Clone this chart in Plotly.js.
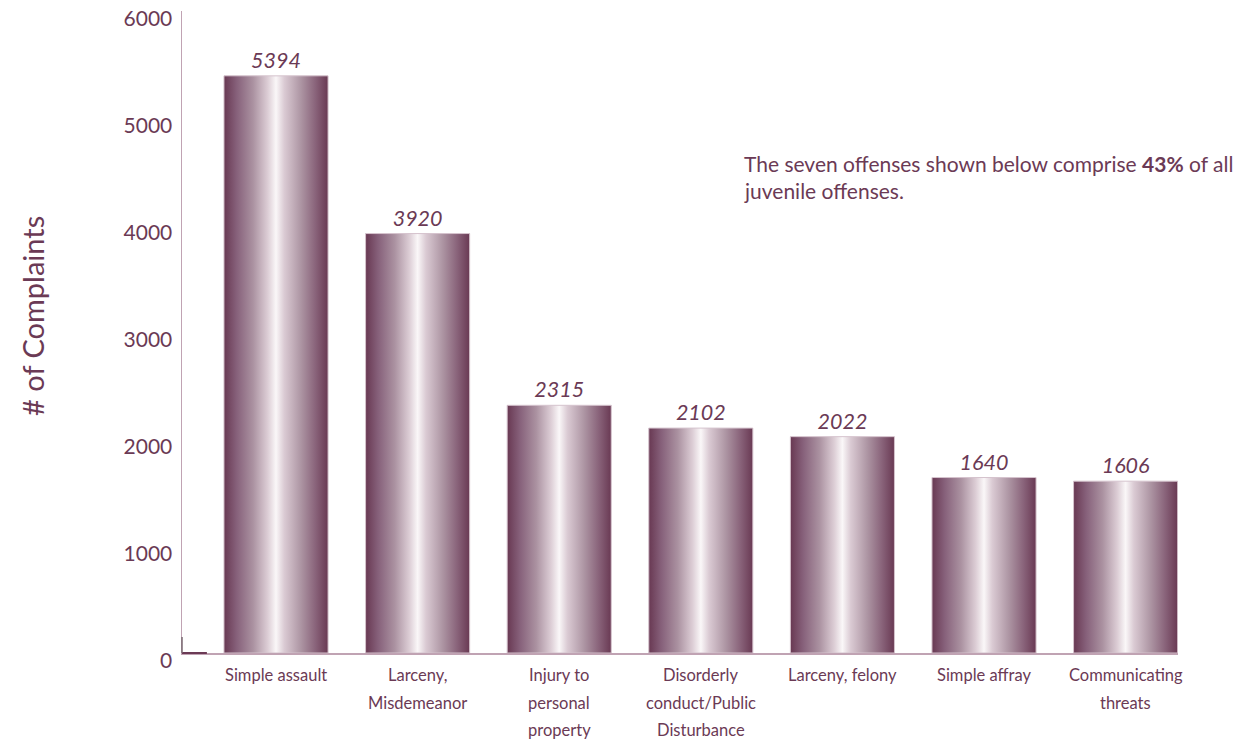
<!DOCTYPE html>
<html>
<head>
<meta charset="utf-8">
<script src="https://cdn.plot.ly/plotly-3.0.1.min.js"></script>
<style>
  html, body { margin: 0; padding: 0; background: #ffffff; }
  #chart { width: 1246px; height: 739px; }
</style>
</head>
<body>
<div id="chart"></div>
<script>
// ---- data ----
const categories = [
  "Simple assault",
  "Larceny, Misdemeanor",
  "Injury to personal property",
  "Disorderly conduct/Public Disturbance",
  "Larceny, felony",
  "Simple affray",
  "Communicating threats"
];
const complaints = [5394, 3920, 2315, 2102, 2022, 1640, 1606];
const categoryLabelLines = [
  ["Simple assault"],
  ["Larceny,", "Misdemeanor"],
  ["Injury to", "personal", "property"],
  ["Disorderly", "conduct/Public", "Disturbance"],
  ["Larceny, felony"],
  ["Simple affray"],
  ["Communicating", "threats"]
];
const yTickValues = [0, 1000, 2000, 3000, 4000, 5000, 6000];
const yTitle = "# of Complaints";
const noteLines = ["The seven offenses shown below comprise <b>43%</b> of all", "juvenile offenses."];

// ---- style ----
const FONT = "Lato, 'Open Sans', sans-serif";
const TEXT = "#6b3a55";
const AXIS = "#c0a3b3";

const trace = {
  type: "bar",
  x: categories,
  y: complaints,
  text: complaints.map(String),
  textposition: "outside",
  cliponaxis: false,
  textfont: { family: FONT, size: 21.5, style: "italic", color: TEXT },
  marker: { color: "#a58797", line: { color: "#d5c3cd", width: 1 } },
  hoverinfo: "x+y"
};

const annotations = [];
categoryLabelLines.forEach((lines, i) => {
  lines.forEach((line, j) => {
    annotations.push({
      x: categories[i], xref: "x",
      y: 0, yref: "paper",
      yanchor: "middle", xanchor: "center",
      yshift: -22 - j * 27.5,
      text: line, showarrow: false,
      font: { family: FONT, size: 16.5, color: TEXT }
    });
  });
});
noteLines.forEach((line, j) => {
  annotations.push({
    x: 0.562, xref: "paper",
    y: 0.763, yref: "paper",
    xanchor: "left", yanchor: "middle",
    yshift: -j * 27,
    text: line, showarrow: false, align: "left",
    font: { family: FONT, size: 21, color: TEXT }
  });
});
annotations.push({
  x: -0.1496, xref: "paper",
  y: 0.525, yref: "paper",
  xanchor: "center", yanchor: "middle",
  textangle: -90,
  text: yTitle, showarrow: false,
  font: { family: FONT, size: 29, weight: 400, color: TEXT }
});

const layout = {
  width: 1246, height: 739,
  margin: { l: 182, r: 68, t: 11, b: 86, pad: 0 },
  paper_bgcolor: "#ffffff", plot_bgcolor: "#ffffff",
  showlegend: false,
  bargap: 0.265,
  xaxis: {
    type: "category",
    range: [-0.664, 6.37],
    showline: true, linecolor: AXIS, linewidth: 1.5,
    showticklabels: false, ticks: "", showgrid: false, zeroline: false,
    fixedrange: true
  },
  yaxis: {
    range: [0, 6000],
    tickvals: yTickValues,
    ticktext: yTickValues.map(String),
    showline: true, linecolor: AXIS, linewidth: 1.5,
    ticks: "", showgrid: false, zeroline: false,
    ticklabelshift: 8,
    ticklabelstandoff: 4,
    tickfont: { family: FONT, size: 21, color: TEXT },
    fixedrange: true
  },
  shapes: [
    { type: "line", xref: "paper", yref: "paper", x0: 0, x1: 0.025, y0: 0, y1: 0,
      line: { color: "#6b3a55", width: 2 } },
    { type: "line", xref: "paper", yref: "paper", x0: 0, x1: 0, y0: 0, y1: 0.025,
      line: { color: "#7a6a72", width: 1.5 } }
  ],
  annotations: annotations
};

Plotly.newPlot("chart", [trace], layout, { displayModeBar: false, staticPlot: true }).then(() => {
  const svg = document.querySelector("#chart .main-svg");
  let defs = svg.querySelector("defs");
  const NS = "http://www.w3.org/2000/svg";
  if (!defs) { defs = document.createElementNS(NS, "defs"); svg.insertBefore(defs, svg.firstChild); }
  const grad = document.createElementNS(NS, "linearGradient");
  grad.setAttribute("id", "barCylinder");
  grad.setAttribute("x1", "0"); grad.setAttribute("y1", "0");
  grad.setAttribute("x2", "1"); grad.setAttribute("y2", "0");
  const stops = [
    [0, "#683852"], [0.12, "#86607a"], [0.28, "#ab92a1"], [0.42, "#dccdd5"],
    [0.5, "#faf7f8"], [0.58, "#dacad3"], [0.74, "#ad95a3"], [0.88, "#89637a"], [1, "#693953"]
  ];
  stops.forEach(([o, c]) => {
    const s = document.createElementNS(NS, "stop");
    s.setAttribute("offset", o);
    s.setAttribute("stop-color", c);
    grad.appendChild(s);
  });
  defs.appendChild(grad);
  document.querySelectorAll("#chart .bars .point path").forEach(p => {
    p.style.fill = "url(#barCylinder)";
  });
});
</script>
</body>
</html>
